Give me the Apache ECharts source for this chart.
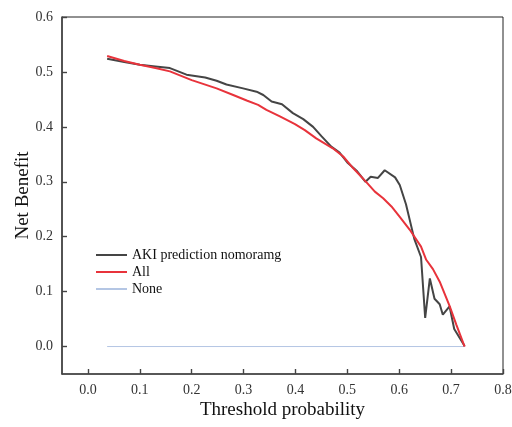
<!DOCTYPE html>
<html><head><meta charset="utf-8">
<script src="https://cdn.jsdelivr.net/npm/echarts@6/dist/echarts.min.js"></script>
<style>html,body{margin:0;padding:0;background:#fff}#c{width:512px;height:427px}</style>
</head><body><div id="c"></div>
<script>
var xTicks = [0, 0.1, 0.2, 0.3, 0.4, 0.5, 0.6, 0.7, 0.8];
var yTicks = [0, 0.1, 0.2, 0.3, 0.4, 0.5, 0.6];
var seriesNames = ['AKI prediction nomoramg', 'All', 'None'];

var xModel = [0.037,0.07,0.10,0.13,0.158,0.19,0.226,0.248,0.267,0.299,0.325,0.338,0.354,0.374,0.395,0.415,0.434,0.450,0.469,0.485,0.501,0.519,0.535,0.545,0.559,0.572,0.592,0.601,0.613,0.629,0.642,0.650,0.659,0.668,0.678,0.684,0.697,0.706,0.726];
var yModel = [0.524,0.518,0.513,0.510,0.507,0.495,0.490,0.484,0.477,0.470,0.464,0.458,0.446,0.441,0.425,0.414,0.400,0.383,0.364,0.353,0.334,0.319,0.300,0.309,0.307,0.321,0.308,0.294,0.259,0.196,0.163,0.052,0.124,0.087,0.077,0.058,0.073,0.032,0.001];

var xAll = [0.037,0.07,0.10,0.13,0.158,0.20,0.248,0.280,0.306,0.328,0.344,0.370,0.399,0.418,0.440,0.472,0.492,0.511,0.537,0.553,0.569,0.585,0.601,0.620,0.642,0.652,0.665,0.678,0.697,0.710,0.726];
var yAll = [0.529,0.520,0.513,0.507,0.501,0.485,0.470,0.458,0.448,0.440,0.431,0.419,0.405,0.394,0.379,0.361,0.346,0.325,0.299,0.282,0.270,0.255,0.236,0.213,0.182,0.158,0.141,0.118,0.074,0.040,0.000];

var xNone = [0.037, 0.727];
var yNone = [0, 0];

function pairs(xs, ys){ return xs.map(function(x,i){ return [x, ys[i]]; }); }

var font = 'Liberation Serif';
var chart = echarts.init(document.getElementById('c'), null, {renderer:'canvas'});
chart.setOption({
  animation: false,
  backgroundColor: '#fff',
  grid: {left: 62, right: 9, top: 17, bottom: 53, show: true, borderColor: '#222', borderWidth: 1,
    containLabel: false, outerBoundsMode: 'none'},
  legend: {
    orient: 'vertical', left: 95, top: 248, padding: 0,
    itemWidth: 31, itemHeight: 10, itemGap: 3,
    itemStyle: {opacity: 0},
    textStyle: {fontFamily: font, fontSize: 14, color: '#111'},
    data: seriesNames
  },
  xAxis: {
    type: 'value', min: -0.05, max: 0.8,
    name: 'Threshold probability', nameLocation: 'middle', nameGap: 27, nameMoveOverlap: false,
    nameTextStyle: {fontFamily: font, fontSize: 19, color: '#111'},
    axisLine: {show: true, onZero: false, lineStyle: {color: '#444', width: 1.6}},
    axisTick: {show: true, inside: true, length: 5, customValues: xTicks, lineStyle: {color: '#444', width: 1.4}},
    axisLabel: {customValues: xTicks, margin: 9, fontFamily: font, fontSize: 14, color: '#333',
      formatter: function(v){ return v.toFixed(1); }},
    splitLine: {show: false}
  },
  yAxis: {
    type: 'value', min: -0.05, max: 0.6,
    name: 'Net Benefit', nameLocation: 'middle', nameGap: 29, nameMoveOverlap: false,
    nameTextStyle: {fontFamily: font, fontSize: 19, color: '#111'},
    axisLine: {show: true, onZero: false, lineStyle: {color: '#444', width: 1.6}},
    axisTick: {show: true, inside: true, length: 5, customValues: yTicks, lineStyle: {color: '#444', width: 1.4}},
    axisLabel: {customValues: yTicks, margin: 9, fontFamily: font, fontSize: 14, color: '#333',
      formatter: function(v){ return v.toFixed(1); }},
    splitLine: {show: false}
  },
  series: [
    {name: seriesNames[0], type: 'line', data: pairs(xModel, yModel), symbol: 'none', showSymbol: false,
      lineStyle: {color: '#454545', width: 2}, itemStyle: {color: '#454545'}, z: 3},
    {name: seriesNames[1], type: 'line', data: pairs(xAll, yAll), symbol: 'none', showSymbol: false,
      lineStyle: {color: '#e8333b', width: 2}, itemStyle: {color: '#e8333b'}, z: 4},
    {name: seriesNames[2], type: 'line', data: pairs(xNone, yNone), symbol: 'none', showSymbol: false,
      lineStyle: {color: '#b4c6e4', width: 1}, itemStyle: {color: '#b4c6e4'}, z: 2}
  ]
});
</script>
</body></html>
